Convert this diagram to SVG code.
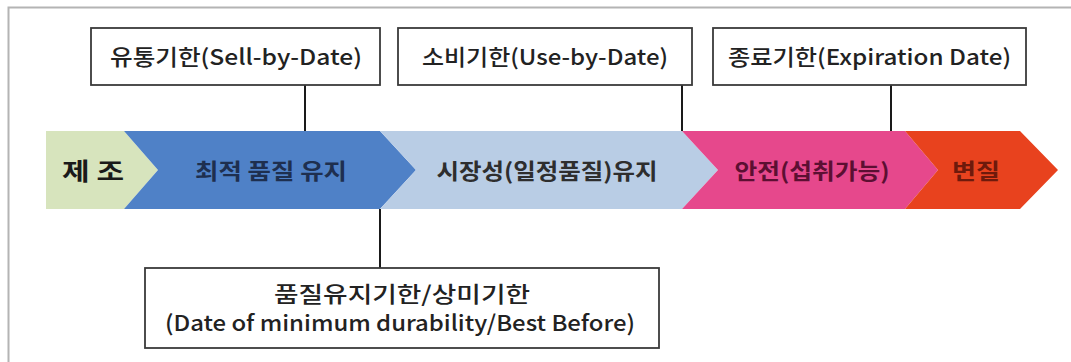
<svg xmlns="http://www.w3.org/2000/svg" width="1071" height="362" viewBox="0 0 1071 362">
  <style>
    text { font-family: "Noto Sans CJK KR", "Noto Sans", sans-serif; text-anchor: middle; }
    .box { fill: #ffffff; stroke: #3a3a3a; stroke-width: 1.8; }
    .lbl { font-size: 22px; font-weight: 500; fill: #222222; }
    .band { font-size: 22px; font-weight: 700; }
    .conn { stroke: #1a1a1a; stroke-width: 2; fill: none; }
  </style>
  <rect width="1071" height="362" fill="#ffffff"/>
  <path d="M8.5,362 V7.5 H1071" fill="none" stroke="#b4b4b4" stroke-width="2"/>

  <g id="connectors">
    <line class="conn" x1="305" y1="85" x2="305" y2="131"/>
    <line class="conn" x1="682" y1="85" x2="682" y2="131"/>
    <line class="conn" x1="891" y1="85" x2="891" y2="131"/>
    <line class="conn" x1="380" y1="209" x2="380" y2="268"/>
  </g>

  <g id="stage-manufacture">
    <polygon points="46,131 124,131 158,170 124,209 46,209" fill="#d7e4bd"/>
    <text x="93" y="180" font-size="24" font-weight="700" fill="#1a1a1a" textLength="62" lengthAdjust="spacingAndGlyphs">제 조</text>
  </g>
  <g id="stage-optimal">
    <polygon points="124,131 380,131 416,170 380,209 124,209 158,170" fill="#4f81c7"/>
    <text class="band" x="271" y="179" fill="#1e2f4f" textLength="152" lengthAdjust="spacingAndGlyphs">최적 품질 유지</text>
  </g>
  <g id="stage-market">
    <polygon points="380,131 682,131 718,170 682,209 380,209 416,170" fill="#b9cde5"/>
    <text class="band" x="547" y="179" fill="#2e2e2e" textLength="221" lengthAdjust="spacingAndGlyphs">시장성(일정품질)유지</text>
  </g>
  <g id="stage-safe">
    <polygon points="682,131 905,131 938,170 905,209 682,209 718,170" fill="#e6488c"/>
    <text class="band" x="812" y="179" fill="#5c0f32" textLength="155" lengthAdjust="spacingAndGlyphs">안전(섭취가능)</text>
  </g>
  <g id="stage-spoiled">
    <polygon points="905,131 1020,131 1058,170 1020,209 905,209 938,170" fill="#e8421e"/>
    <text class="band" x="976" y="179" fill="#6e1a0c" textLength="48" lengthAdjust="spacingAndGlyphs">변질</text>
  </g>

  <g id="sell-by-date">
    <rect class="box" x="91" y="28" width="289" height="57"/>
    <text class="lbl" x="236" y="65" textLength="252" lengthAdjust="spacingAndGlyphs">유통기한(Sell-by-Date)</text>
  </g>
  <g id="use-by-date">
    <rect class="box" x="398" y="28" width="294" height="57"/>
    <text class="lbl" x="545" y="65" textLength="246" lengthAdjust="spacingAndGlyphs">소비기한(Use-by-Date)</text>
  </g>
  <g id="expiration-date">
    <rect class="box" x="713" y="28" width="313" height="57"/>
    <text class="lbl" x="869.5" y="65" textLength="283" lengthAdjust="spacingAndGlyphs">종료기한(Expiration Date)</text>
  </g>
  <g id="best-before">
    <rect class="box" x="145" y="268" width="514" height="80"/>
    <text class="lbl" x="402" y="302" textLength="256" lengthAdjust="spacingAndGlyphs">품질유지기한/상미기한</text>
    <text class="lbl" x="400" y="331" textLength="470" lengthAdjust="spacingAndGlyphs">(Date of minimum durability/Best Before)</text>
  </g>
</svg>
